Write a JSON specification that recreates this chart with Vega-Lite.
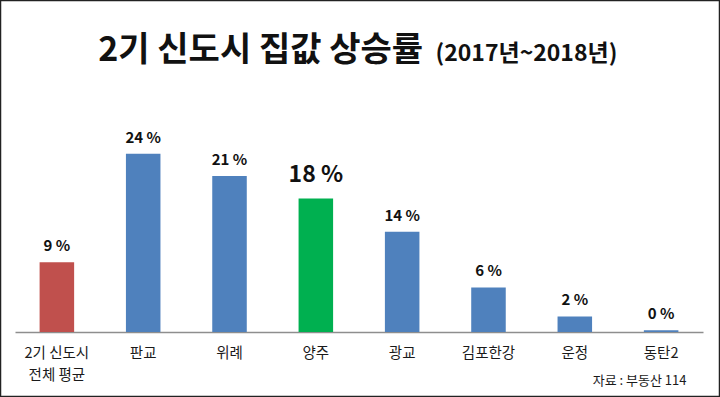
{
  "$schema": "https://vega.github.io/schema/vega-lite/v6.json",
  "width": 720,
  "height": 397,
  "autosize": {"type": "none"},
  "padding": 0,
  "background": "white",
  "title": {
    "text": "2기 신도시 집값 상승률",
    "anchor": "start",
    "frame": "group",
    "align": "right",
    "dx": 423,
    "dy": 95,
    "offset": 0,
    "baseline": "alphabetic",
    "fontSize": 34,
    "fontWeight": "bold",
    "font": "Noto Sans CJK KR",
    "color": "#111111"
  },
  "config": {
    "font": "Noto Sans CJK KR",
    "view": {"stroke": "#222222", "strokeWidth": 2.5}
  },
  "data": {
    "values": [
      {"region": "2기 신도시 전체 평균", "rate": 9.4, "label": "9 %", "type": "avg"},
      {"region": "판교", "rate": 24, "label": "24 %", "type": "city"},
      {"region": "위례", "rate": 21, "label": "21 %", "type": "city"},
      {"region": "양주", "rate": 18, "label": "18 %", "type": "focus"},
      {"region": "광교", "rate": 13.5, "label": "14 %", "type": "city"},
      {"region": "김포한강", "rate": 6.0, "label": "6 %", "type": "city"},
      {"region": "운정", "rate": 2.1, "label": "2 %", "type": "city"},
      {"region": "동탄2", "rate": 0.25, "label": "0 %", "type": "city"}
    ]
  },
  "encoding": {
    "x": {
      "field": "region",
      "type": "nominal",
      "sort": null,
      "scale": {"range": [15, 703], "paddingInner": 0.6, "paddingOuter": 0.285},
      "axis": {
        "orient": "bottom",
        "offset": -65,
        "domain": true,
        "domainColor": "#8e8e8e",
        "domainWidth": 1.5,
        "ticks": false,
        "labelAngle": 0,
        "labelPadding": 14,
        "labelFontSize": 14.5,
        "labelColor": "#1a1a1a",
        "labelLimit": 200,
        "labelOverlap": false,
        "labelLineHeight": 22,
        "labelExpr": "datum.value == '2기 신도시 전체 평균' ? ['2기 신도시', '전체 평균'] : datum.label",
        "title": "자료 : 부동산 114",
        "titleX": 686,
        "titleY": 52,
        "titleAlign": "right",
        "titleAnchor": null,
        "titleBaseline": "alphabetic",
        "titleFontSize": 13,
        "titleFontWeight": "normal",
        "titleColor": "#1a1a1a"
      }
    },
    "y": {
      "field": "rate",
      "type": "quantitative",
      "scale": {"domain": [0, 26], "range": [332, 139], "nice": false, "zero": true},
      "axis": {
        "orient": "left",
        "domain": false,
        "ticks": false,
        "labels": false,
        "grid": false,
        "title": "(2017년~2018년)",
        "titleAngle": 0,
        "titleX": 435,
        "titleY": 60,
        "titleAlign": "left",
        "titleBaseline": "alphabetic",
        "titleFontSize": 23,
        "titleFontWeight": "bold",
        "titleColor": "#111111"
      }
    }
  },
  "layer": [
    {
      "mark": {"type": "bar"},
      "encoding": {
        "color": {
          "field": "type",
          "type": "nominal",
          "scale": {"domain": ["avg", "city", "focus"], "range": ["#C0504D", "#4F81BD", "#00B050"]},
          "legend": null
        }
      }
    },
    {
      "transform": [{"filter": "datum.type != 'focus'"}],
      "mark": {"type": "text", "baseline": "alphabetic", "dy": -11, "fontSize": 15, "fontWeight": "bold", "color": "#111111"},
      "encoding": {"text": {"field": "label"}}
    },
    {
      "transform": [{"filter": "datum.type == 'focus'"}],
      "mark": {"type": "text", "baseline": "alphabetic", "dy": -16, "fontSize": 23, "fontWeight": "bold", "color": "#111111"},
      "encoding": {"text": {"field": "label"}}
    }
  ]
}
